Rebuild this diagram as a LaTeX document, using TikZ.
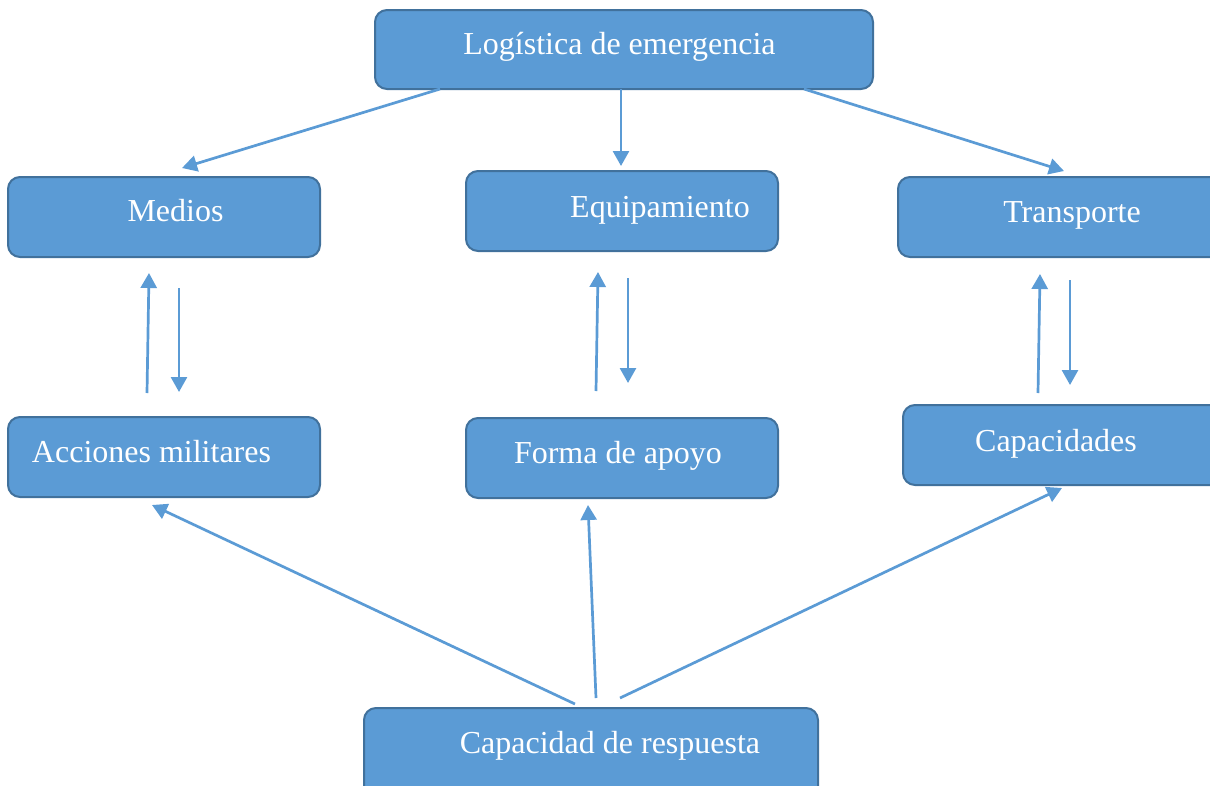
\documentclass[tikz,border=0pt]{standalone}
\usepackage{fontspec}
\setmainfont{Liberation Serif}
\usetikzlibrary{arrows.meta}
\definecolor{boxfill}{HTML}{5B9BD5}
\definecolor{boxline}{HTML}{41719C}
\definecolor{arr}{HTML}{5B9BD5}
\begin{document}
\begin{tikzpicture}[x=1pt,y=-1pt,
  box/.style={draw=boxline,fill=boxfill,line width=2pt,rounded corners=12pt},
  lbl/.style={text=white,font=\fontsize{32}{36}\selectfont,anchor=base,inner sep=0pt},
  conn/.style={draw=arr,line width=2.7pt,-{Triangle[width=16pt,length=15pt]}}]
\useasboundingbox (0,0) rectangle (1210,785);
% boxes
\draw[box] (375,10) rectangle (873,89);
\draw[box] (8,177) rectangle (320,257);
\draw[box] (466,171) rectangle (778,251);
\draw[box] (898,177) rectangle (1222,257);
\draw[box] (8,417) rectangle (320,497);
\draw[box] (466,418) rectangle (778,498);
\draw[box] (903,405) rectangle (1222,485);
\draw[box] (364,708) rectangle (818,800);
% labels
\node[lbl] (log) at (619.5,54) {Logística de emergencia};
\node[lbl] (med) at (175.5,221) {Medios};
\node[lbl] (equ) at (660,217) {Equipamiento};
\node[lbl] (tra) at (1072,222) {Transporte};
\node[lbl] (acc) at (151.5,462) {Acciones militares};
\node[lbl] (for) at (618,463) {Forma de apoyo};
\node[lbl] (cap) at (1056,451) {Capacidades};
\node[lbl] (res) at (610,753) {Capacidad de respuesta};
% connector end points
\coordinate (l1) at (440,89);
\coordinate (l2) at (621,89);
\coordinate (l3) at (804,89);
\coordinate (m1) at (182,168);
\coordinate (e1) at (621,166);
\coordinate (t1) at (1064,171);
\coordinate (mu0) at (147,393); \coordinate (mu1) at (149,273);
\coordinate (md0) at (179,288); \coordinate (md1) at (179,392);
\coordinate (eu0) at (596,391); \coordinate (eu1) at (598,272);
\coordinate (ed0) at (628,278); \coordinate (ed1) at (628,383);
\coordinate (tu0) at (1038,393); \coordinate (tu1) at (1040,274);
\coordinate (td0) at (1070,280); \coordinate (td1) at (1070,385);
\coordinate (r1) at (575,704); \coordinate (a1) at (152,505);
\coordinate (r2) at (596,698); \coordinate (f1) at (588,505);
\coordinate (r3) at (620,698); \coordinate (c1) at (1062,488);
% connectors
\draw[conn] (l1) -- (m1);
\draw[conn] (l2) -- (e1);
\draw[conn] (l3) -- (t1);
\draw[conn] (mu0) -- (mu1);
\draw[conn] (md0) -- (md1);
\draw[conn] (eu0) -- (eu1);
\draw[conn] (ed0) -- (ed1);
\draw[conn] (tu0) -- (tu1);
\draw[conn] (td0) -- (td1);
\draw[conn] (r1) -- (a1);
\draw[conn] (r2) -- (f1);
\draw[conn] (r3) -- (c1);
\end{tikzpicture}
\end{document}
